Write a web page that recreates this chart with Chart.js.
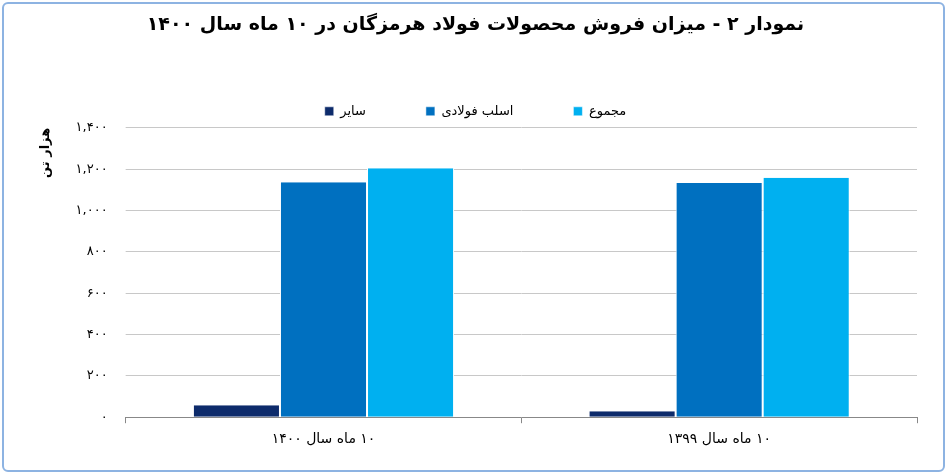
<!DOCTYPE html>
<html><head><meta charset="utf-8">
<script src="https://cdn.jsdelivr.net/npm/chart.js@4/dist/chart.umd.min.js"></script>
<style>
html,body{margin:0;padding:0;background:#fff;}
#wrap{position:absolute;left:2px;top:2px;width:939px;height:466px;border:2px solid #8db3e2;border-radius:6px;background:#fff;}
canvas{display:block;}
</style></head><body>
<div id="wrap"><canvas id="c" width="939" height="466"></canvas></div>
<script>
const categories=["\u200F۱۰ ماه سال ۱۴۰۰","\u200F۱۰ ماه سال ۱۳۹۹"];
const seriesNames=["ساير","اسلب فولادی","مجموع"];
const other=[58,29];
const slab=[1137,1133];
const total=[1204,1158];
const tickLabels={0:"۰",200:"۲۰۰",400:"۴۰۰",600:"۶۰۰",800:"۸۰۰",1000:"۱,۰۰۰",1200:"۱,۲۰۰",1400:"۱,۴۰۰"};
const colors=["#0d2b6b","#0070c0","#00b0f0"];
const F="'DejaVu Sans', sans-serif";
new Chart(document.getElementById('c'),{
 type:'bar',
 data:{labels:categories,datasets:[other,slab,total].map((d,i)=>({label:seriesNames[i],data:d,backgroundColor:colors[i],borderColor:'#fff',borderWidth:{left:1,right:1,top:0,bottom:0},categoryPercentage:0.66,barPercentage:1}))},
 options:{responsive:false,animation:false,
  layout:{padding:{left:30,right:26,top:4,bottom:14}},
  plugins:{
   title:{display:true,text:"نمودار ۲ - میزان فروش محصولات فولاد هرمزگان در ۱۰ ماه سال ۱۴۰۰",font:{family:F,size:19,weight:'bold'},color:'#000',padding:{top:6,bottom:8}},
   legend:{labels:{font:{family:F,size:13},color:'#000',boxWidth:9,boxHeight:9,padding:60},},
   tooltip:{enabled:false}},
  scales:{
   x:{grid:{display:true,drawOnChartArea:false,color:'#888',tickLength:6},border:{color:'#888'},ticks:{font:{family:F,size:14},color:'#000',padding:8}},
   y:{min:0,max:1400,ticks:{stepSize:200,font:{family:F,size:13},color:'#000',callback:v=>tickLabels[v],padding:18},
      grid:{color:'#c8c8c8',tickLength:0},border:{display:false},
      title:{display:true,text:"هزار تن",align:'end',font:{family:F,size:13,weight:'bold'},color:'#000'}}
  }}
});
</script></body></html>
